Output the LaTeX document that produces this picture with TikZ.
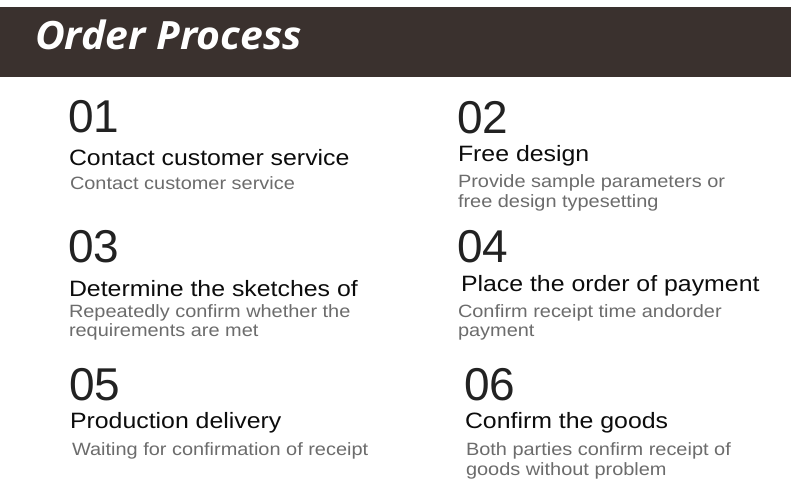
\documentclass[tikz,border=0pt]{standalone}
\usepackage{fontspec}
\setmainfont{Liberation Sans}
\newfontfamily\stretchfont[FakeStretch=1.12]{Liberation Sans}
\newfontfamily\digitfont{Liberation Sans}
\newfontfamily\headfont[FakeStretch=1.05]{Open Sans}
\definecolor{barbrown}{RGB}{58,49,46}
\definecolor{digitgray}{RGB}{34,34,34}
\definecolor{titleblack}{RGB}{12,12,12}
\definecolor{subgray}{RGB}{108,108,108}
\tikzset{
  txt/.style={anchor=base west, inner sep=0pt, outer sep=0pt},
  digit/.style={txt, text=digitgray, font=\digitfont\fontsize{46}{46}\selectfont},
  steptitle/.style={txt, text=titleblack, font=\stretchfont\fontsize{22.2}{24}\selectfont},
  stepsub/.style={txt, text=subgray, font=\stretchfont\fontsize{17.8}{20}\selectfont},
}
\begin{document}
\begin{tikzpicture}[x=1pt,y=-1pt]
\useasboundingbox (0,0) rectangle (800,502);
\fill[white] (0,0) rectangle (800,502);
\fill[barbrown] (0,7) rectangle (791,77);
\node[txt, text=white, font=\headfont\bfseries\itshape\fontsize{39}{40}\selectfont] (head) at (35,50) {Order Process};

% 01
\node[digit] (d1) at (68,133) {01};
\node[steptitle] (t1) at (69,166) {Contact customer service};
\node[stepsub] (s1) at (70,190) {Contact customer service};
% 02
\node[digit] (d2) at (457,134) {02};
\node[steptitle] (t2) at (458,162) {Free design};
\node[stepsub] (s2a) at (458,188) {Provide sample parameters or};
\node[stepsub] (s2b) at (458,208) {free design typesetting};
% 03
\node[digit] (d3) at (68,263) {03};
\node[steptitle] (t3) at (69,297) {Determine the sketches of};
\node[stepsub] (s3a) at (69,318) {Repeatedly confirm whether the};
\node[stepsub] (s3b) at (69,337) {requirements are met};
% 04
\node[digit] (d4) at (457,263) {04};
\node[steptitle] (t4) at (461,292) {Place the order of payment};
\node[stepsub] (s4a) at (458,318) {Confirm receipt time andorder};
\node[stepsub] (s4b) at (458,337) {payment};
% 05
\node[digit] (d5) at (69,400) {05};
\node[steptitle] (t5) at (70,428) {Production delivery};
\node[stepsub] (s5) at (72,455) {Waiting for confirmation of receipt};
% 06
\node[digit] (d6) at (464,400) {06};
\node[steptitle] (t6) at (465,428) {Confirm the goods};
\node[stepsub] (s6a) at (466,455) {Both parties confirm receipt of};
\node[stepsub] (s6b) at (466,475) {goods without problem};
\end{tikzpicture}
\end{document}
